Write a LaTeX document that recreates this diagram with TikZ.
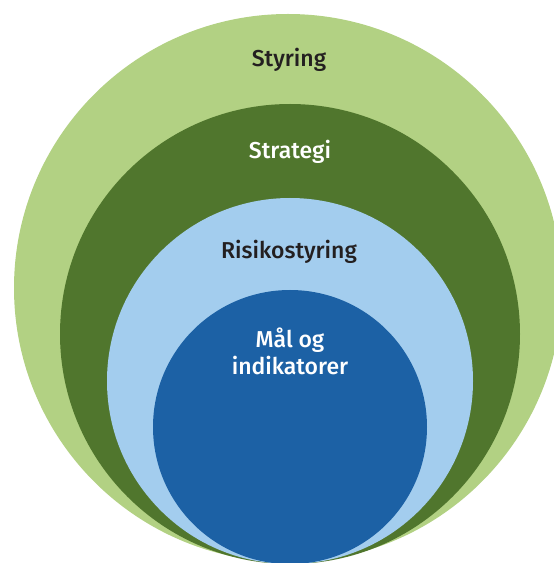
\documentclass[tikz,border=0pt]{standalone}
\usepackage{fontspec}
\setmainfont{Fira Sans}[UprightFont={* Medium}]
\definecolor{lgreen}{HTML}{B2D183}
\definecolor{dgreen}{HTML}{50762D}
\definecolor{lblue}{HTML}{A3CDEE}
\definecolor{dblue}{HTML}{1C61A5}
\definecolor{ink}{HTML}{231F20}
\tikzset{lbl/.style={anchor=base,inner sep=0pt,font=\fontsize{23}{27}\selectfont}}
\begin{document}
\begin{tikzpicture}[x=1pt,y=1pt]
\useasboundingbox (0,0) rectangle (554,563);
\clip (0,0) rectangle (554,563);
\fill[lgreen] (288,275) circle[radius=274];
\fill[dgreen] (290,229) circle[radius=230];
\fill[lblue] (290,182) circle[radius=183];
\fill[dblue] (290,136) circle[radius=137];
\node[lbl,text=ink] (styring) at (289,496) {Styring};
\node[lbl,text=white] (strategi) at (290,404) {Strategi};
\node[lbl,text=ink] (risiko) at (289,304) {Risikostyring};
\node[lbl,text=white] (maal) at (290,215) {Mål og};
\node[lbl,text=white] (indik) at (290,188) {indikatorer};
\end{tikzpicture}
\end{document}
